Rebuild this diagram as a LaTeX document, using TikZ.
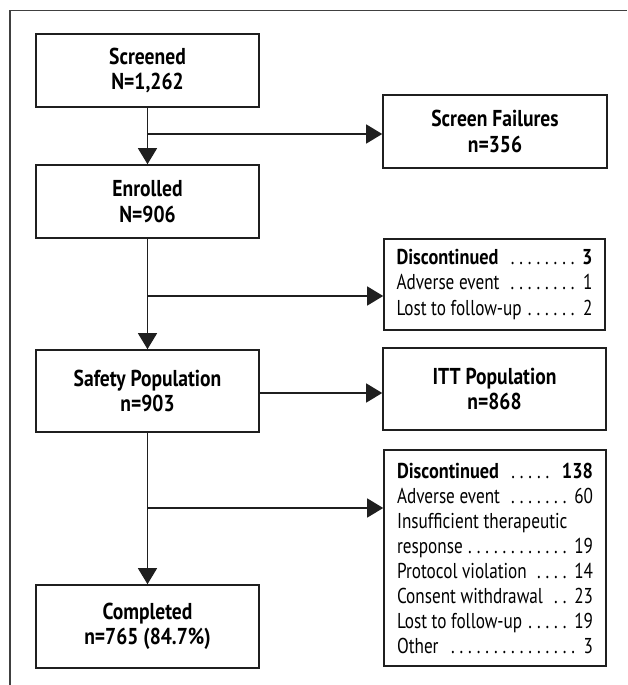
\documentclass[tikz,border=0pt]{standalone}
\usepackage{fontspec}
\setmainfont[FakeStretch=0.8]{PT Sans}
\newfontfamily\bfam[FakeStretch=0.85, UprightFont={* Bold}]{PT Sans}
\usetikzlibrary{arrows.meta}
\newcommand\ldr{\leaders\hbox to 8.6pt{\hss.\hss}\hfill}
\newcommand\lentry[2]{\hbox to 196pt{#1\kern2pt\ldr\,#2}}
\newcommand\lplain[1]{\hbox to 196pt{#1\hfill}}
\begin{document}
\begin{tikzpicture}[x=1pt,y=-1pt,
  mainbox/.style={draw=black!88, line width=1.6pt, minimum width=223pt, inner sep=0pt,
    align=center, font=\fontsize{23}{25.5}\bfam},
  listbox/.style={draw=black!88, line width=1.6pt, minimum width=222pt, inner sep=0pt,
    font=\fontsize{21.5}{25}\selectfont},
  conn/.style={line width=1.3pt, draw=black!88},
  arr/.style={conn, -{Triangle[length=16pt,width=19pt]}}]
\useasboundingbox (0,0) rectangle (627,685);
\draw[line width=1.3pt, black!75] (10,685) -- (10,10.5) -- (627,10.5);

\node[mainbox, minimum height=73pt] (scr) at (147.5,70.5) {Screened\\N=1,262};
\node[mainbox, minimum height=73pt] (enr) at (147.5,201.5) {Enrolled\\N=906};
\node[mainbox, minimum height=82pt] (saf) at (147.5,391) {Safety Population\\n=903};
\node[mainbox, minimum height=83pt] (cmp) at (147.5,626.5) {Completed\\n=765 (84.7\%)};
\node[mainbox, minimum height=73pt, minimum width=224pt] (sf) at (495,131.5) {Screen Failures\\n=356};
\node[mainbox, minimum height=82pt] (itt) at (494.5,389) {ITT Population\\n=868};

\node[listbox, minimum height=91pt, minimum width=221pt] (d1) at (494.5,284.5) {\vbox{\baselineskip=25.5pt
  \lentry{{\bfam Discontinued}}{{\bfam 3}}
  \lentry{Adverse event}{1}
  \lentry{Lost to follow-up}{2}}};
\node[listbox, minimum height=216pt] (d2) at (495,558) {\vbox{\baselineskip=25pt
  \lentry{{\bfam Discontinued}}{{\bfam 138}}
  \lentry{Adverse event}{60}
  \lplain{Insufficient therapeutic}
  \lentry{response}{19}
  \lentry{Protocol violation}{14}
  \lentry{Consent withdrawal}{23}
  \lentry{Lost to follow-up}{19}
  \lentry{Other}{3}}};

\coordinate (j1) at (147.5,134);
\coordinate (j2) at (147.5,296);
\coordinate (j3) at (147.5,508);

\draw[arr] (scr.south) -- (enr.north);
\draw[arr] (j1) -- (sf.west |- j1);
\draw[arr] (enr.south) -- (saf.north);
\draw[arr] (j2) -- (d1.west |- j2);
\draw[arr] (saf.east |- 0,393) -- (itt.west |- 0,393);
\draw[arr] (saf.south) -- (cmp.north);
\draw[arr] (j3) -- (d2.west |- j3);
\end{tikzpicture}
\end{document}
